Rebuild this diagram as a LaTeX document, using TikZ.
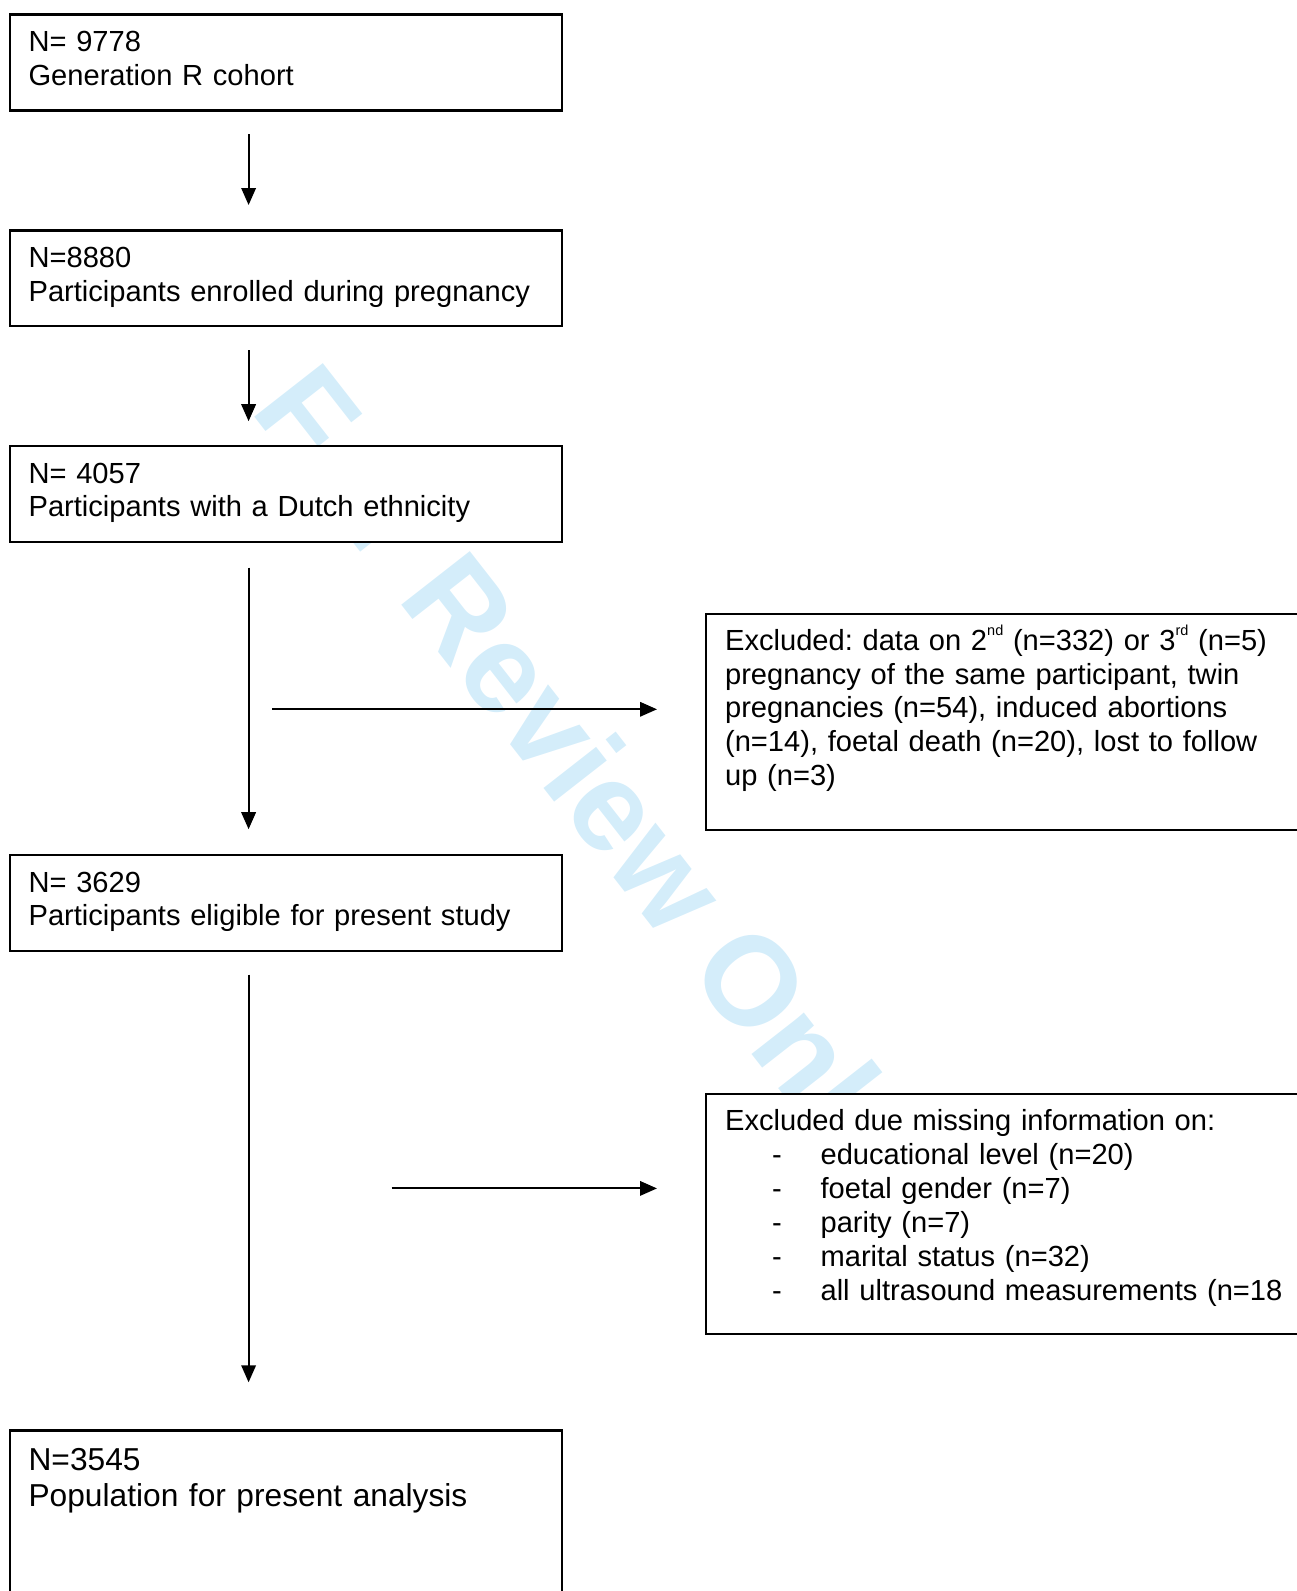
\documentclass[tikz,border=0pt]{standalone}
\usepackage{fontspec}
\setmainfont{Liberation Sans}
\usetikzlibrary{arrows.meta}
\definecolor{wm}{RGB}{212,237,250}
\newcommand\supx[1]{\raisebox{14.5pt}{\fontsize{14.5pt}{14.5pt}\selectfont #1}}
\newcommand\itm[1]{\hspace*{47pt}\makebox[48.5pt][l]{-}#1}
\frenchspacing
\begin{document}
\begin{tikzpicture}[x=1pt,y=-1pt,
  box/.style={draw=black, line width=2.2pt, fill=white, anchor=north west,
    inner xsep=19pt, inner ysep=0pt, align=left,
    font=\fontsize{29.1pt}{33.7pt}\selectfont\frenchspacing, text height=37.4pt},
  exbox/.style={box, text height=36.3pt, text width=582pt},
  arr/.style={line width=1.9pt, -{Triangle[length=17pt,width=14.5pt]}},
  mark wm/.style={anchor=base west, rotate=-52, inner sep=0pt, text=wm,
    font=\fontsize{126.5pt}{126.5pt}\selectfont\bfseries}]
\useasboundingbox (0,0) rectangle (1297,1591);
\clip (0,0) rectangle (1297,1591);

% watermark
\node[mark wm] (wmk) at (249,410) {For Review Only};

% main boxes
\node[box, text width=514.5pt, text depth=58.6pt] (b1) at (8.5,13.3)
  {N= 9778\\Generation R cohort};
\node[box, text width=514.5pt, text depth=58.1pt] (b2) at (8.5,229.3)
  {N=8880\\Participants enrolled during pregnancy};
\node[box, text width=514.5pt, text depth=59pt] (b3) at (8.5,444.7)
  {N= 4057\\Participants with a Dutch ethnicity};
\node[box, text width=514.5pt, text depth=58.6pt] (b4) at (8.5,853.5)
  {N= 3629\\Participants eligible for present study};
\node[box, text width=514.5pt, text height=40pt, text depth=160pt,
  font=\fontsize{31.7pt}{36.3pt}\selectfont] (b5) at (8.5,1429.3)
  {N=3545\\Population for present analysis};

% exclusion boxes
\node[exbox, text depth=179.9pt] (ex1) at (705,613)
  {Excluded: data on 2\supx{nd} (n=332) or 3\supx{rd} (n=5)\\
   pregnancy of the same participant, twin\\
   pregnancies (n=54), induced abortions\\
   (n=14), foetal death (n=20), lost to follow\\
   up (n=3)};
\node[exbox, text depth=203.3pt, font=\fontsize{29.1pt}{34pt}\selectfont] (ex2) at (705,1093)
  {Excluded due missing information on:\\
   \itm{educational level (n=20)}\\
   \itm{foetal gender (n=7)}\\
   \itm{parity (n=7)}\\
   \itm{marital status (n=32)}\\
   \itm{all ultrasound measurements (n=18}};

% connectors
\coordinate (ax) at (248.6,0);
\draw[arr, shorten <=22.7pt, shorten >=24.3pt] (b1.south -| ax) -- (b2.north -| ax);
\draw[arr, shorten <=23.3pt, shorten >=23.5pt] (b2.south -| ax) -- (b3.north -| ax);
\draw[arr, shorten <=24.2pt, shorten >=24.3pt] (b3.south -| ax) -- (b4.north -| ax);
\draw[arr, shorten <=22.8pt, shorten >=47pt] (b4.south -| ax) -- (b5.north -| ax);

\coordinate (h1s) at (272,709.3);
\coordinate (h2s) at (391.7,1188.4);
\draw[arr, shorten >=48pt] (h1s) -- (h1s -| ex1.west);
\draw[arr, shorten >=48pt] (h2s) -- (h2s -| ex2.west);
\end{tikzpicture}
\end{document}
